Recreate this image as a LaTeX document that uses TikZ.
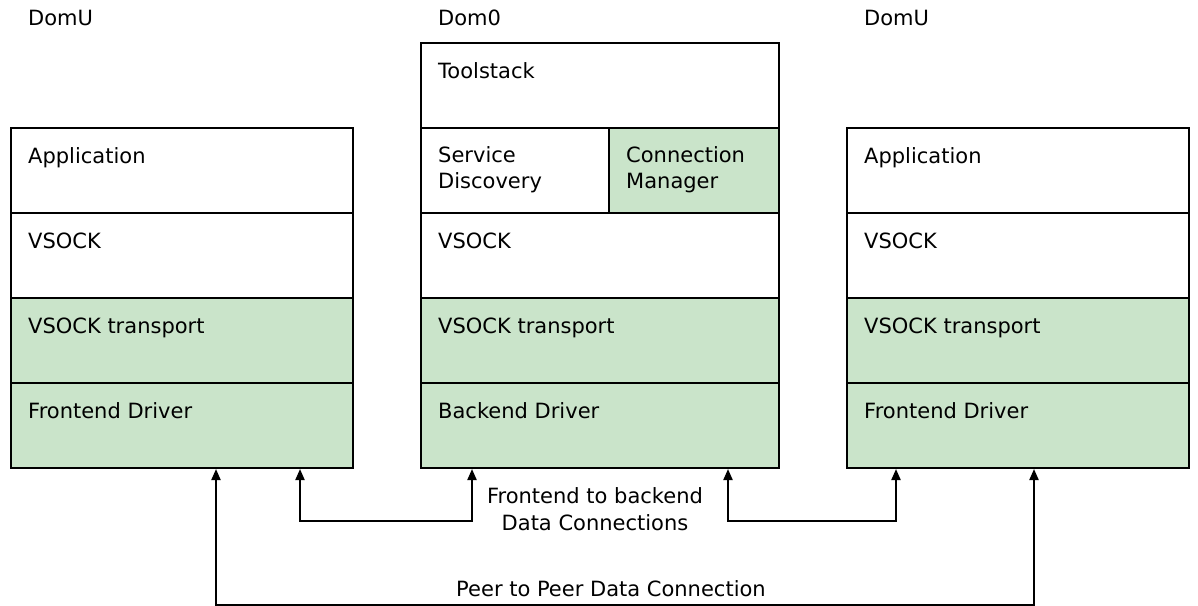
\documentclass[tikz,border=0pt]{standalone}
\usepackage{fontspec}
\setmainfont{DejaVu Sans}
\usetikzlibrary{arrows.meta,calc}
\definecolor{layergreen}{HTML}{CAE4CA}
\begin{document}
\begin{tikzpicture}[x=1pt,y=-1pt,
  font=\fontsize{21}{26}\selectfont,
  layer/.style={draw=black,line width=2pt,fill=white,inner sep=0pt,
    minimum height=85pt,anchor=north west},
  greenlayer/.style={layer,fill=layergreen},
  txt/.style={anchor=base west,inner sep=0pt,align=left},
  conn/.style={line width=2pt,{Triangle[length=11pt,width=9pt]}-{Triangle[length=11pt,width=9pt]}}]
\useasboundingbox (0,0) rectangle (1198,605);

% domain titles
\node[txt] (tl) at (28,25) {DomU};
\node[txt] (tm) at (438,25) {Dom0};
\node[txt] (tr) at (864,25) {DomU};

% left DomU stack
\node[layer,minimum width=342pt] (lapp) at (10,127) {};
\node[layer,minimum width=342pt] (lvs) at (10,212) {};
\node[greenlayer,minimum width=342pt] (ltr) at (10,297) {};
\node[greenlayer,minimum width=342pt] (lfd) at (10,382) {};
\node[txt] at ($(lapp.north west)+(18,36)$) {Application};
\node[txt] at ($(lvs.north west)+(18,36)$) {VSOCK};
\node[txt] at ($(ltr.north west)+(18,36)$) {VSOCK transport};
\node[txt] at ($(lfd.north west)+(18,36)$) {Frontend Driver};

% Dom0 stack
\node[layer,minimum width=358pt] (mts) at (420,42) {};
\node[layer,minimum width=188pt] (msd) at (420,127) {};
\node[greenlayer,minimum width=170pt] (mcm) at (608,127) {};
\node[layer,minimum width=358pt] (mvs) at (420,212) {};
\node[greenlayer,minimum width=358pt] (mtr) at (420,297) {};
\node[greenlayer,minimum width=358pt] (mbd) at (420,382) {};
\node[txt] at ($(mts.north west)+(18,36)$) {Toolstack};
% two-line labels: base anchor sits on the second line
\node[txt] at ($(msd.north west)+(18,61)$) {Service\\Discovery};
\node[txt] at ($(mcm.north west)+(18,61)$) {Connection\\Manager};
\node[txt] at ($(mvs.north west)+(18,36)$) {VSOCK};
\node[txt] at ($(mtr.north west)+(18,36)$) {VSOCK transport};
\node[txt] at ($(mbd.north west)+(18,36)$) {Backend Driver};

% right DomU stack
\node[layer,minimum width=342pt] (rapp) at (846,127) {};
\node[layer,minimum width=342pt] (rvs) at (846,212) {};
\node[greenlayer,minimum width=342pt] (rtr) at (846,297) {};
\node[greenlayer,minimum width=342pt] (rfd) at (846,382) {};
\node[txt] at ($(rapp.north west)+(18,36)$) {Application};
\node[txt] at ($(rvs.north west)+(18,36)$) {VSOCK};
\node[txt] at ($(rtr.north west)+(18,36)$) {VSOCK transport};
\node[txt] at ($(rfd.north west)+(18,36)$) {Frontend Driver};

% frontend/backend data connections
\draw[conn] ($(lfd.south west)+(290,0)$) -- ++(0,52) -| ($(mbd.south west)+(52,0)$);
\draw[conn] ($(mbd.south west)+(308,0)$) -- ++(0,52) -| ($(rfd.south west)+(50,0)$);
\node[anchor=base,inner sep=0pt,align=center,font=\fontsize{21}{27}\selectfont]
  (fbl) at (595,530) {Frontend to backend\\Data Connections};

% peer to peer connection
\draw[conn] ($(lfd.south west)+(206,0)$) -- ++(0,136) -| ($(rfd.south west)+(188,0)$);
\node[anchor=base,inner sep=0pt] (ppl) at (611,596) {Peer to Peer Data Connection};
\end{tikzpicture}
\end{document}
